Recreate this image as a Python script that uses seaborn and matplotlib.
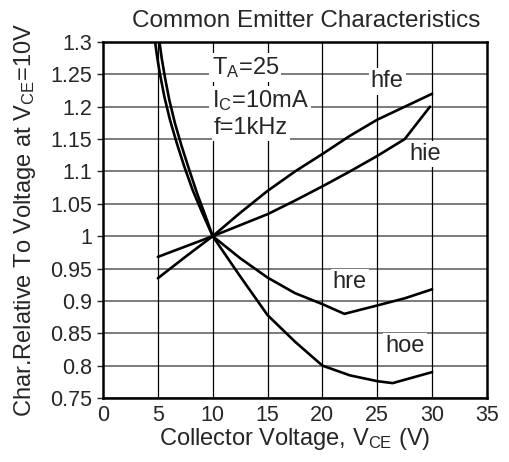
import numpy as np
import pandas as pd
import matplotlib
matplotlib.use('Agg')
import matplotlib.pyplot as plt
import seaborn as sns

# values
hfe_v = [5, 7.5, 10, 12.5, 15, 17.5, 20, 22.5, 25, 27.5, 30]
hfe = [0.935, 0.968, 1.0, 1.036, 1.07, 1.10, 1.127, 1.155, 1.18, 1.20, 1.22]

hie_v = [5, 7.5, 10, 12.5, 15, 17.5, 20, 22.5, 25, 27.5, 29.8]
hie = [0.968, 0.984, 1.0, 1.017, 1.034, 1.055, 1.077, 1.10, 1.124, 1.15, 1.2]

hre_v = [4.75, 4.95, 5.2, 5.6, 6.1, 6.7, 7.4, 8.2, 9.0, 10, 12.5, 15, 17.5, 20, 22, 25, 27.5, 30]
hre = [1.3, 1.275, 1.25, 1.215, 1.18, 1.145, 1.108, 1.07, 1.038, 1.0, 0.966, 0.936, 0.912, 0.895, 0.88, 0.893, 0.904, 0.918]

hoe_v = [5.15, 5.35, 5.65, 6.05, 6.55, 7.15, 7.85, 8.6, 9.3, 10, 12.5, 15, 17.5, 20, 22.5, 25, 26.4, 30]
hoe = [1.3, 1.275, 1.245, 1.21, 1.175, 1.14, 1.103, 1.065, 1.033, 1.0, 0.938, 0.878, 0.837, 0.80, 0.785, 0.776, 0.773, 0.79]

x_ticks = [0, 5, 10, 15, 20, 25, 30, 35]
y_ticks = [0.75, 0.8, 0.85, 0.9, 0.95, 1.0, 1.05, 1.1, 1.15, 1.2, 1.25, 1.3]
y_tick_labels = ['0.75', '0.8', '0.85', '0.9', '0.95', '1', '1.05', '1.1', '1.15', '1.2', '1.25', '1.3']

frames = []
for name, v, c in [('hfe', hfe_v, hfe), ('hie', hie_v, hie), ('hre', hre_v, hre), ('hoe', hoe_v, hoe)]:
    frames.append(pd.DataFrame({'Vce': v, 'rel': c, 'param': name}))
df = pd.concat(frames, ignore_index=True)

sns.set_style('white')
plt.rcParams['font.family'] = ['Liberation Sans', 'DejaVu Sans']
plt.rcParams['mathtext.fontset'] = 'custom'
plt.rcParams['mathtext.rm'] = 'Liberation Sans'
plt.rcParams['mathtext.it'] = 'Liberation Sans'

fig = plt.figure(figsize=(5.09, 4.62), dpi=100)
ax = fig.add_axes([103/509, 1-398/462, 384/509, 356/462])

for y in y_ticks:
    ax.axhline(y, color='#666666', lw=1.2, zorder=1)
for x in x_ticks[1:-1]:
    ax.axvline(x, color='black', lw=0.9, zorder=1)

sns.lineplot(data=df, x='Vce', y='rel', hue='param', palette=['black'] * 4,
             sort=False, estimator=None, legend=False, lw=1.9, ax=ax, zorder=3)

ax.set_xlim(0, 35)
ax.set_ylim(0.75, 1.3)
ax.set_xticks(x_ticks)
ax.set_yticks(y_ticks)
ax.set_yticklabels(y_tick_labels)
ax.tick_params(axis='y', left=True, length=4, width=1, pad=4, labelsize=15.5)
ax.tick_params(axis='x', bottom=False, length=0, pad=5, labelsize=15.5)
for s in ax.spines.values():
    s.set_color('black')
    s.set_linewidth(1.8)
    s.set_zorder(5)

box = dict(facecolor='white', edgecolor='none', pad=1.5)
ax.text(9.9, 1.26, r'T$_\mathrm{A}$=25', fontsize=17, ha='left', va='center', bbox=box, zorder=4)
ax.text(9.9, 1.209, r'I$_\mathrm{C}$=10mA', fontsize=17, ha='left', va='center', bbox=box, zorder=4)
ax.text(10.1, 1.167, 'f=1kHz', fontsize=17, ha='left', va='center', bbox=box, zorder=4)

for label, lx, ly in [('hfe', 25.9, 1.239), ('hie', 29.4, 1.127), ('hre', 22.5, 0.929), ('hoe', 27.5, 0.83)]:
    ax.text(lx, ly, label, fontsize=17, ha='center', va='center', bbox=box, zorder=4)

ax.set_xlabel(r'Collector Voltage, V$_\mathrm{CE}$ (V)', fontsize=17)
ax.set_ylabel(r'Char.Relative To Voltage at V$_\mathrm{CE}$=10V', fontsize=17)
ax.xaxis.set_label_coords(0.5, -0.08)
ax.yaxis.set_label_coords(-0.17, 0.5)
ax.text(0.529, 1.042, 'Common Emitter Characteristics', fontsize=17.5,
        ha='center', va='baseline', transform=ax.transAxes)

fig.savefig('out.png', dpi=100)
